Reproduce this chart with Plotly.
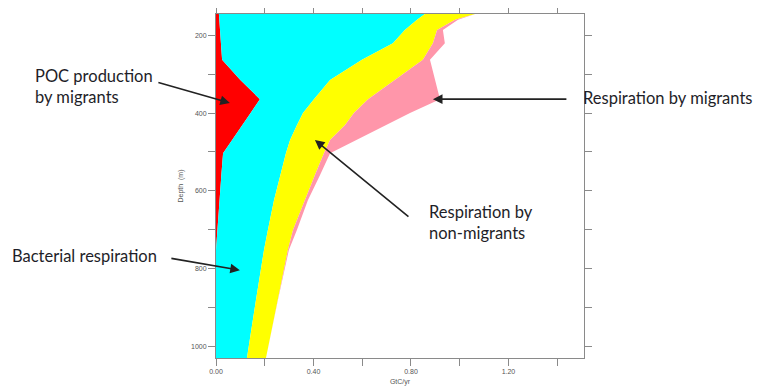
import plotly.graph_objects as go

# Depth levels (m)
depth = [145, 160, 186, 220, 263, 315, 364, 400, 431, 469, 503, 559, 624, 701, 752, 881, 1030]

# Carbon flux components (GtC/yr), stacked left to right
poc_migrants = [0.012, 0.014, 0.016, 0.020, 0.025, 0.100, 0.180, 0.142, 0.107, 0.065, 0.029, 0.022, 0.014, 0.004, 0.0, 0.0, 0.0]
bacterial = [0.845, 0.811, 0.759, 0.706, 0.574, 0.368, 0.222, 0.215, 0.225, 0.239, 0.258, 0.241, 0.224, 0.209, 0.197, 0.164, 0.127]
resp_non_migrants = [0.206, 0.156, 0.132, 0.164, 0.250, 0.266, 0.222, 0.209, 0.197, 0.164, 0.156, 0.143, 0.127, 0.103, 0.098, 0.090, 0.078]
resp_migrants = [0.0, 0.012, 0.024, 0.049, 0.029, 0.164, 0.295, 0.230, 0.168, 0.106, 0.025, 0.021, 0.012, 0.016, 0.004, 0.0, 0.0]

series = [
    ("POC production by migrants", poc_migrants, "#FF0000"),
    ("Bacterial respiration", bacterial, "#00FFFF"),
    ("Respiration by non-migrants", resp_non_migrants, "#FFFF00"),
    ("Respiration by migrants", resp_migrants, "#FF96AA"),
]

x_tickvals = [0.0, 0.2, 0.4, 0.6, 0.8, 1.0, 1.2, 1.4]
x_ticktext = ["0.00", "", "0.40", "", "0.80", "", "1.20", ""]
y_tickvals = [200, 300, 400, 500, 600, 700, 800, 900, 1000]
y_ticktext = ["200", "", "400", "", "600", "", "800", "", "1000"]

fig = go.Figure()
for name, vals, col in series:
    fig.add_trace(go.Scatter(
        x=vals, y=depth, name=name, mode="lines",
        stackgroup="one", orientation="h",
        line=dict(width=0, color=col), fillcolor=col,
        hoverinfo="skip",
    ))

axis_common = dict(
    showline=True, linecolor="#8a8a8a", linewidth=1, mirror="ticks",
    ticks="outside", ticklen=7, tickcolor="#8a8a8a", tickwidth=1,
    showgrid=False, zeroline=False, automargin=False,
    tickfont=dict(family="Liberation Sans", size=7, color="#555555"),
)

fig.update_xaxes(range=[0, 1.51], tickvals=x_tickvals, ticktext=x_ticktext,
                 title=dict(text="GtC/yr", font=dict(family="Liberation Sans", size=7, color="#555555"), standoff=4),
                 **axis_common)
fig.update_yaxes(range=[1030, 145], tickvals=y_tickvals, ticktext=y_ticktext,
                 title=dict(text="Depth  (m)", font=dict(family="Liberation Sans", size=7, color="#555555"), standoff=6),
                 **axis_common)

txt_font = dict(family="Lato", size=16.5, color="#1e1e28")
arrow_color = "#222222"

# Text labels (paper coordinates)
labels = [
    ("POC production<br>by migrants", -0.497, 0.788),
    ("Bacterial respiration", -0.560, 0.297),
    ("Respiration by migrants", 0.993, 0.756),
    ("Respiration by<br>non-migrants", 0.573, 0.395),
]
for text, px, py in labels:
    fig.add_annotation(text=text, x=px, y=py, xref="paper", yref="paper",
                       xanchor="left", yanchor="middle", align="left",
                       showarrow=False, font=txt_font)

# Arrows: head at data location, tail offset in pixels
arrows = [
    (0.057, 374, -73, -21),
    (0.098, 804, -70, -12),
    (0.890, 364, 135, 0),
    (0.406, 469, 95, 78),
]
for hx, hy, ax, ay in arrows:
    fig.add_annotation(text="", x=hx, y=hy, xref="x", yref="y",
                       ax=ax, ay=ay, showarrow=True, arrowhead=2,
                       arrowsize=1.2, arrowwidth=1.6, arrowcolor=arrow_color)

fig.update_layout(
    width=755, height=384,
    margin=dict(l=208, r=179, t=6, b=34),
    paper_bgcolor="white", plot_bgcolor="white",
    showlegend=False,
)

fig.write_html("out.html")
